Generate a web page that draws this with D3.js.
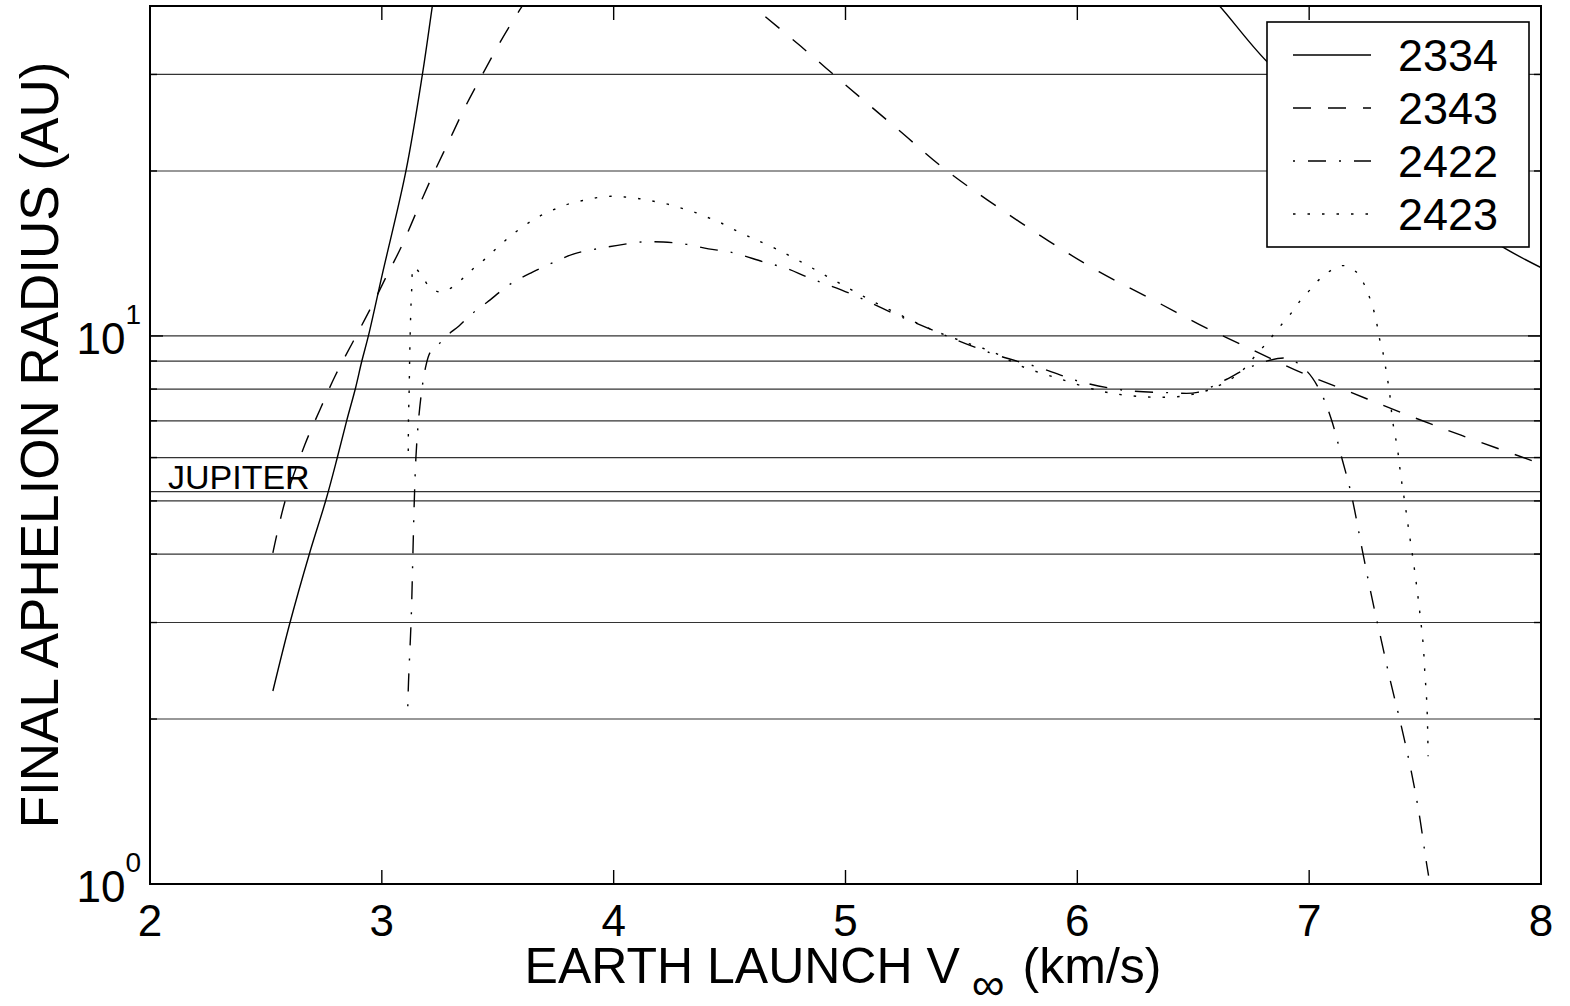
<!DOCTYPE html>
<html>
<head>
<meta charset="utf-8">
<script src="https://cdnjs.cloudflare.com/ajax/libs/d3/7.8.5/d3.min.js"></script>
<style>
body { margin: 0; background: #fff; }
svg { display: block; }
text { font-family: "Liberation Sans", Arial, Helvetica, sans-serif; fill: #000; }
</style>
</head>
<body>
<svg id="chart" width="1570" height="1006"></svg>
<script>
// launch V-infinity (km/s) and final aphelion radius (AU), null = off the top of the plot
var v2334 = [2.530, 2.604, 2.688, 2.760, 2.808, 2.849, 2.886, 2.914, 2.942, 3.001, 3.104, 3.175, 3.219, 3.26,
	5.0, 6.55, 6.611, 6.820, 7.10, 7.40, 7.65, 7.827, 8.004]
var r2334 = [2.25, 3.00, 4.01, 5.04, 6.00, 7.02, 8.02, 9.01, 10.0, 12.9, 20.0, 30.0, 40.3, 53,
	null, 42.5, 40.1, 31.6, 25, 20, 16.5, 14.6, 13.3]

var v2343 = [2.530, 2.583, 2.669, 2.734, 2.799, 2.878, 2.950, 3.022, 3.086, 3.151, 3.216, 3.288, 3.360, 3.432,
	3.511, 3.594, 3.65,
	4.1, 4.54, 4.590, 4.806, 5.022, 5.237, 5.425, 5.613, 5.877, 6.093, 6.316, 6.525, 6.748, 6.964, 7.180,
	7.396, 7.655, 8.007]
var r2343 = [4.02, 5.0, 6.35, 7.35, 8.46, 9.80, 11.2, 12.9, 14.6, 16.9, 19.5, 22.6, 26.2, 29.9,
	34.4, 39.3, 42.7,
	null, 42.0, 40.3, 33.8, 28.2, 23.6, 20.2, 17.7, 14.9, 13.1, 11.7, 10.5, 9.47, 8.58, 7.89,
	7.25, 6.59, 5.83]

var v2422 = [3.112, 3.115, 3.127, 3.134, 3.140, 3.147, 3.158, 3.173, 3.187, 3.209, 3.240, 3.279, 3.334, 3.385,
	3.454, 3.556, 3.650, 3.744, 3.829, 3.928, 4.017, 4.119, 4.213, 4.315, 4.409, 4.504, 4.649, 4.751, 4.836,
	5.024, 5.195, 5.382, 5.638, 5.842, 6.014, 6.204, 6.399, 6.518, 6.632, 6.727, 6.809, 6.907, 6.986, 7.043,
	7.093, 7.144, 7.180, 7.230, 7.266, 7.309, 7.352, 7.396, 7.439, 7.475, 7.504, 7.515]
var r2422 = [2.11, 2.33, 3.08, 4.00, 5.00, 6.00, 7.00, 8.00, 8.70, 9.34, 9.60, 10.0, 10.44, 10.94,
	11.52, 12.45, 13.08, 13.64, 14.12, 14.42, 14.63, 14.84, 14.84, 14.69, 14.42, 14.22, 13.64, 13.26, 12.80,
	11.93, 11.05, 10.22, 9.27, 8.74, 8.25, 7.96, 7.88, 7.89, 8.29, 8.70, 8.98, 9.10, 8.66, 8.00,
	7.10, 5.92, 5.18, 4.05, 3.40, 2.81, 2.33, 1.953, 1.616, 1.337, 1.106, 1.036]

var v2423 = [3.114, 3.115, 3.118, 3.120, 3.124, 3.129, 3.138, 3.172, 3.206, 3.257, 3.314, 3.360, 3.402, 3.450,
	3.496, 3.542, 3.590, 3.642, 3.693, 3.752, 3.809, 3.867, 3.928, 3.988, 4.048, 4.111, 4.167, 4.225, 4.285,
	4.341, 4.401, 4.456, 4.512, 4.597, 4.700, 4.810, 4.918, 5.024, 5.126, 5.288, 5.399, 5.536, 5.638, 5.755,
	5.928, 6.108, 6.230, 6.345, 6.467, 6.583, 6.691, 6.734, 6.770, 6.813, 6.849, 6.889, 6.928, 6.964, 7.004,
	7.043, 7.093, 7.148, 7.201, 7.235, 7.259, 7.278, 7.292, 7.302, 7.317, 7.328, 7.338, 7.347, 7.360, 7.381,
	7.396, 7.414, 7.431, 7.449, 7.465, 7.479, 7.492, 7.499, 7.507, 7.511, 7.513]
var r2423 = [6.17, 7.05, 8.0, 9.08, 10.74, 12.19, 13.35, 12.89, 12.29, 12.02, 12.36, 12.86, 13.35, 13.87,
	14.47, 15.05, 15.62, 16.18, 16.64, 17.07, 17.43, 17.67, 17.88, 17.98, 17.93, 17.80, 17.63, 17.43, 17.14,
	16.87, 16.48, 16.13, 15.69, 15.09, 14.42, 13.64, 12.86, 12.15, 11.52, 10.66, 10.16, 9.67, 9.34, 8.82,
	8.34, 7.92, 7.78, 7.73, 7.78, 8.02, 8.50, 8.85, 9.23, 9.67, 10.09, 10.59, 11.08, 11.64, 12.14,
	12.67, 13.16, 13.44, 13.11, 12.48, 11.80, 11.15, 10.52, 9.95, 9.38, 8.85, 8.34, 7.87, 7.00, 6.22,
	5.53, 4.92, 4.38, 3.89, 3.46, 3.08, 2.73, 2.43, 2.16, 1.92, 1.71]

var names = ["2334", "2343", "2422", "2423"]
var dashes = [null, "18,17", "2,13,18,13", "2.5,12"]

var xTicks = [2, 3, 4, 5, 6, 7, 8]
var gridValues = [2, 3, 4, 5, 5.2, 6, 7, 8, 9, 10, 20, 30]
var minorTicks = [2, 3, 4, 5, 6, 7, 8, 9, 20, 30]

var series = [[v2334, r2334], [v2343, r2343], [v2422, r2422], [v2423, r2423]]
	.map((s, i) => ({ name: names[i], dash: dashes[i], values: d3.zip(s[0], s[1]) }))

var svg = d3.select("#chart"),
	margin = {top: 6, left: 150, bottom: 122, right: 29},
	width = +svg.attr("width"),
	height = +svg.attr("height");

var x = d3.scaleLinear()
	.domain([2, 8])
	.range([margin.left, width - margin.right])

var y = d3.scaleLog()
	.domain([1, 40])
	.range([height - margin.bottom, margin.top])

var x0 = x.range()[0], x1 = x.range()[1], y0 = y.range()[0], y1 = y.range()[1]

svg.append("clipPath").attr("id", "plot")
	.append("rect")
	.attr("x", x0).attr("y", y1)
	.attr("width", x1 - x0).attr("height", y0 - y1)

// horizontal reference lines
svg.append("g")
	.selectAll("line")
	.data(gridValues)
	.enter().append("line")
	.attr("x1", x0).attr("x2", x1)
	.attr("y1", d => y(d)).attr("y2", d => y(d))
	.attr("stroke", "#333")
	.attr("stroke-width", 1.2)

// ticks, drawn inwards on all four sides
var ticks = svg.append("g").attr("stroke", "#000").attr("stroke-width", 1.4)
xTicks.forEach(function(t) {
	ticks.append("line").attr("x1", x(t)).attr("x2", x(t)).attr("y1", y0).attr("y2", y0 - 14)
	ticks.append("line").attr("x1", x(t)).attr("x2", x(t)).attr("y1", y1).attr("y2", y1 + 14)
})
minorTicks.concat([10]).forEach(function(t) {
	var len = t == 10 ? 13 : 7
	ticks.append("line").attr("x1", x0).attr("x2", x0 + len).attr("y1", y(t)).attr("y2", y(t))
	ticks.append("line").attr("x1", x1).attr("x2", x1 - len).attr("y1", y(t)).attr("y2", y(t))
})

svg.append("text")
	.attr("x", 168).attr("y", 489)
	.attr("font-size", 34)
	.text("JUPITER")

var line = d3.line()
	.defined(d => d[1] != null)
	.x(d => x(d[0]))
	.y(d => y(d[1]))
	.curve(d3.curveCatmullRom.alpha(0.5))

svg.append("g")
	.attr("clip-path", "url(#plot)")
	.selectAll("path")
	.data(series)
	.enter().append("path")
	.attr("d", d => line(d.values))
	.attr("fill", "none")
	.attr("stroke", "#000")
	.attr("stroke-width", 1.4)
	.attr("stroke-dasharray", d => d.dash)

// frame
svg.append("rect")
	.attr("x", x0).attr("y", y1)
	.attr("width", x1 - x0).attr("height", y0 - y1)
	.attr("fill", "none")
	.attr("stroke", "#000")
	.attr("stroke-width", 2)

// tick labels
svg.append("g")
	.selectAll("text")
	.data(xTicks)
	.enter().append("text")
	.attr("x", d => x(d))
	.attr("y", y0 + 52)
	.attr("text-anchor", "middle")
	.attr("font-size", 44)
	.text(d => d)

var yl = svg.append("g")
	.selectAll("text")
	.data([1, 10])
	.enter().append("text")
	.attr("x", 141)
	.attr("y", d => y(d) + 18)
	.attr("text-anchor", "end")
	.attr("font-size", 44)
yl.append("tspan").text("10")
yl.append("tspan").attr("font-size", 28).attr("dy", -30).text(d => Math.log10(d))

// axis titles
var xt = svg.append("text")
	.attr("x", 843).attr("y", 983)
	.attr("text-anchor", "middle")
	.attr("font-size", 50)
xt.append("tspan").text("EARTH LAUNCH V")
xt.append("tspan").attr("font-size", 46).attr("dx", 12).attr("dy", 17).text("\u221E")
xt.append("tspan").attr("dx", 18).attr("dy", -17).text("(km/s)")

svg.append("text")
	.attr("transform", "translate(58,445) rotate(-90)")
	.attr("text-anchor", "middle")
	.attr("font-size", 53)
	.text("FINAL APHELION RADIUS (AU)")

// legend
var legend = svg.append("g")
legend.append("rect")
	.attr("x", 1267).attr("y", 22)
	.attr("width", 262).attr("height", 225)
	.attr("fill", "#fff")
	.attr("stroke", "#000")
	.attr("stroke-width", 1.6)

var item = legend.selectAll("g.item")
	.data(series)
	.enter().append("g")
	.attr("class", "item")
	.attr("transform", (d, i) => `translate(0,${71 + i * 53})`)

item.append("line")
	.attr("x1", 1293).attr("x2", 1371)
	.attr("y1", -16).attr("y2", -16)
	.attr("stroke", "#000")
	.attr("stroke-width", 1.4)
	.attr("stroke-dasharray", d => d.dash)

item.append("text")
	.attr("x", 1398)
	.attr("font-size", 45)
	.text(d => d.name)
</script>
</body>
</html>
